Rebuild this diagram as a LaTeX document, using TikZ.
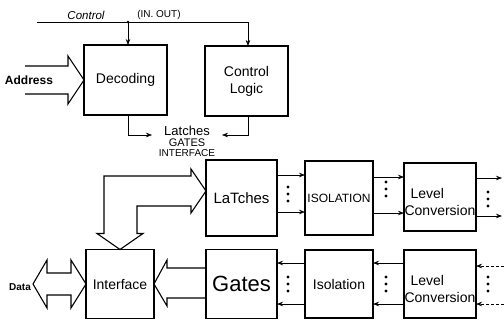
\documentclass[tikz,border=0pt]{standalone}
\usepackage{fontspec}
\setmainfont{Liberation Sans}
\usetikzlibrary{arrows.meta,calc}
\begin{document}
\begin{tikzpicture}[x=1pt,y=-1pt,
  box/.style={draw,line width=1.2pt,inner sep=0pt,outer sep=0pt,align=center},
  hollow/.style={draw,line width=1.1pt,line join=miter},
  arr/.style={-{Stealth[length=6pt,width=4.5pt]},line width=0.7pt},
  thinline/.style={line width=0.5pt},
  extline/.style={densely dashed,line width=0.6pt,-{Stealth[length=6pt,width=4.5pt]}},
  lbl/.style={inner sep=0pt,align=center}]
\useasboundingbox (0,0) rectangle (504,322);
\fill[white] (0,0) rectangle (504,322);

% boxes
\node[box,minimum width=83pt,minimum height=70pt] (dec) at (125.5,80) {\fontsize{14}{16}\selectfont Decoding};
\node[box,minimum width=83pt,minimum height=70pt] (ctrl) at (246.5,81) {\fontsize{14}{16}\selectfont Control\\[5pt]\fontsize{14}{16}\selectfont Logic};
\node[box,minimum width=71pt,minimum height=76pt] (lat) at (241.5,198) {\fontsize{15}{17}\selectfont LaTches};
\node[box,minimum width=71pt,minimum height=69pt] (gat) at (241.5,284) {\fontsize{22}{24}\selectfont Gates};
\node[box,minimum width=68pt,minimum height=69pt] (intf) at (120,284) {\fontsize{14}{16}\selectfont Interface};
\node[box,minimum width=68pt,minimum height=74pt] (iso1) at (339,198) {\fontsize{12}{14}\selectfont ISOLATION};
\node[box,minimum width=68pt,minimum height=68pt] (iso2) at (339,284) {\fontsize{14}{16}\selectfont Isolation};
\node[box,minimum width=72pt,minimum height=68pt] (lev1) at (440,197) {};
\node[lbl,align=left] (lev1t) at (440,202) {\fontsize{14}{16}\selectfont\hspace*{6pt}Level\\[5pt]\fontsize{14}{16}\selectfont Conversion};
\node[box,minimum width=72pt,minimum height=68pt] (lev2) at (440,284) {};
\node[lbl,align=left] (lev2t) at (440,289) {\fontsize{14}{16}\selectfont\hspace*{6pt}Level\\[5pt]\fontsize{14}{16}\selectfont Conversion};

% labels
\node[lbl] (ctltxt) at (86,15) {\fontsize{11.5}{13}\selectfont\itshape Control};
\node[lbl] (inout) at (159,15) {\fontsize{10}{12}\selectfont (IN. OUT)};
\node[lbl] (addr) at (29,80) {\fontsize{12}{14}\selectfont\bfseries Address};
\node[lbl] (data) at (20,287) {\fontsize{10}{12}\selectfont\bfseries Data};
\node[lbl] (mid) at (187,141) {\fontsize{13}{14}\selectfont Latches\\[-1pt]\fontsize{11}{13}\selectfont GATES\\[-2pt]\fontsize{10}{12}\selectfont INTERFACE};

% control line
\coordinate (cstart) at (37,22);
\coordinate (cbr) at (128,22);
\coordinate (ccorner) at (248,22);
\draw[thinline] (cstart) -- (ccorner);
\draw[arr,line width=0.5pt] (ccorner) -- (ccorner |- ctrl.north);
\fill (cbr) circle (1.4);
\draw[arr] (cbr) -- (cbr |- dec.north);

% decoding / control logic outputs
\coordinate (midL) at (152,135);
\coordinate (midR) at (222,135);
\draw[arr,line width=0.5pt] (cbr |- dec.south) |- (midL);
\draw[arr,line width=0.5pt] (ccorner |- ctrl.south) |- (midR);

% hollow arrows
\draw[hollow] ($(dec.west)+(-59,-14)$) -- ++(43,0) -- ++(0,-10) -- (dec.west) -- ++(-16,24) -- ++(0,-10) -- ++(-43,0);
\coordinate (dtip) at (33,284);
\draw[hollow] (dtip) -- ++(14,-24) -- ++(0,13) -| ($(intf.west)+(-15,-24)$) -- (intf.west) -- ++(-15,24) -- ++(0,-13) -| ($(dtip)+(14,24)$) -- cycle;
\draw[hollow] ($(gat.west)+(0,-16)$) -- ($(intf.east)+(13,-16)$) -- ++(0,-8) -- (intf.east) -- ++(13,22) -- ++(0,-8) -- ($(gat.west)+(0,14)$);
\draw[hollow] (intf.north) -- ++(-23,-16) -- ++(7,0) |- ($(lat.west)+(-15,-22)$) -- ++(0,-7) -- ($(lat.west)+(0,-7)$) -- ++(-15,22) -- ++(0,-7) -| ($(intf.north)+(17,-16)$) -- ++(6,0) -- cycle;

% top row connectors
\draw[arr] ([yshift=23pt]lat.east) -- ([yshift=23pt]lat.east -| iso1.west);
\draw[arr] ([yshift=-14pt]lat.east) -- ([yshift=-14pt]lat.east -| iso1.west);
\draw[arr] ([yshift=21pt]iso1.east) -- ([yshift=21pt]iso1.east -| lev1.west);
\draw[arr] ([yshift=-15pt]iso1.east) -- ([yshift=-15pt]iso1.east -| lev1.west);
\coordinate (o1) at (502,178);
\coordinate (o2) at (502,216);
\draw[arr] (lev1.east |- o1) -- (o1);
\draw[arr] (lev1.east |- o2) -- (o2);

% bottom row connectors
\draw[arr] ([yshift=21pt]iso2.west) -- ([yshift=21pt]iso2.west -| gat.east);
\draw[arr] ([yshift=-20pt]iso2.west) -- ([yshift=-20pt]iso2.west -| gat.east);
\draw[arr] ([yshift=21pt]lev2.west) -- ([yshift=21pt]lev2.west -| iso2.east);
\draw[arr] ([yshift=-20pt]lev2.west) -- ([yshift=-20pt]lev2.west -| iso2.east);
\coordinate (i1) at (504,266);
\coordinate (i2) at (504,304);
\draw[extline] (i1) -- (i1 -| lev2.east);
\draw[extline] (i2) -- (i2 -| lev2.east);

% dots
\foreach \x/\ya in {288/187,386/182,488/192,288/277,386/277,488/277}
  \foreach \k in {0,7,14} \fill (\x,\ya+\k) circle (1.6);
\end{tikzpicture}
\end{document}
